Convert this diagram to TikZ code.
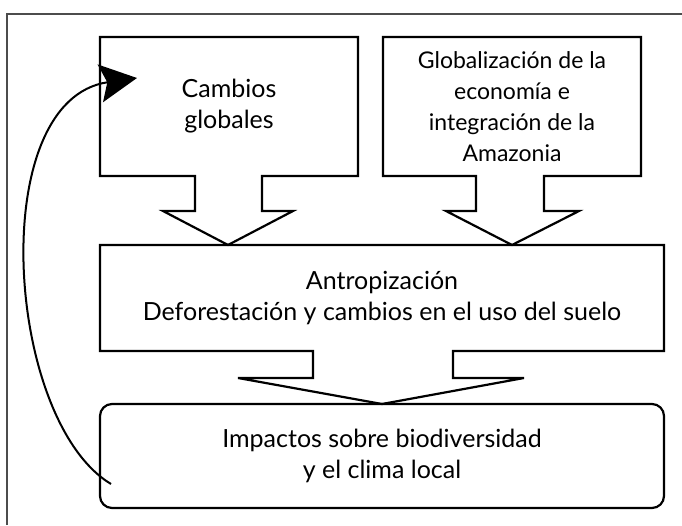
\documentclass[tikz,border=0pt]{standalone}
\usepackage{fontspec}
\setmainfont{Lato}
\usetikzlibrary{arrows.meta}

\tikzset{
  caja/.style={inner sep=0pt, outer sep=0pt, align=center, font=\fontsize{25}{31}\selectfont},
  contorno/.style={line width=2.2pt, line join=miter},
}

\begin{document}
\begin{tikzpicture}[x=1pt,y=1pt]
\useasboundingbox (0,0) rectangle (682,525);
\draw[black!70,line width=1.4pt] (7,0) -- (7,511) -- (682,511);

\node[caja, minimum width=258pt, minimum height=139pt] (cambios) at (229,418.5) {Cambios\\globales};
\node[caja, minimum width=258pt, minimum height=139pt, font=\fontsize{23}{31}\selectfont] (global) at (512,418.5) {Globalización de la\\economía e\\integración de la\\Amazonia};
\node[caja, minimum width=564pt, minimum height=106pt] (antrop) at (382,227) {Antropización\\Deforestación y cambios en el uso del suelo};
\node[caja, draw, contorno, rounded corners=12pt, minimum width=564pt, minimum height=104pt] (impactos) at (382,69) {Impactos sobre biodiversidad\\y el clima local};

\draw[contorno] (cambios.south west) -- (cambios.north west) -- (cambios.north east) -- (cambios.south east)
  -- (262,349) -- (262,314) -- (293,314) -- (228,280) -- (163,314) -- (195,314) -- (195,349) -- cycle;
\draw[contorno] (global.south west) -- (global.north west) -- (global.north east) -- (global.south east)
  -- (544,349) -- (544,314) -- (579,314) -- (512,280) -- (446,314) -- (476,314) -- (476,349) -- cycle;
\draw[contorno] (antrop.south west) -- (antrop.north west) -- (antrop.north east) -- (antrop.south east)
  -- (453,174) -- (453,147) -- (524,147) -- (382,121) -- (238,147) -- (313,147) -- (313,174) -- cycle;

\draw[line width=2pt, -{Stealth[length=37pt,width=38pt,inset=7pt]}] ([shift={(11,-28)}]impactos.west)
  .. controls (5,105) and (-15,425) .. ([shift={(37,-41)}]cambios.north west);
\end{tikzpicture}
\end{document}
